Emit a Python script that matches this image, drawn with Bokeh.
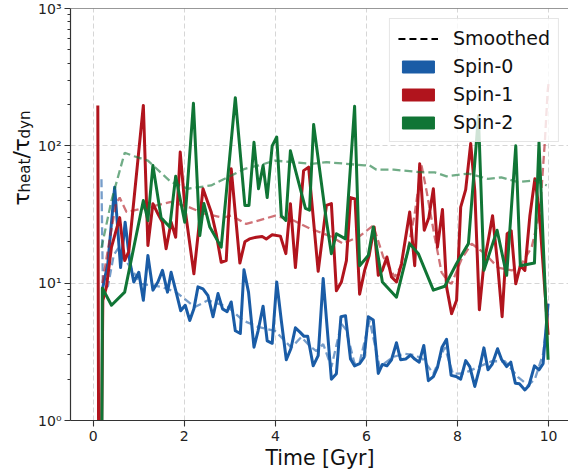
import math
from bokeh.plotting import figure
from bokeh.layouts import row
from bokeh.models import (FixedTicker, Span, Label, Legend, LegendItem, Range1d,
                          CustomJSTickFormatter)
from bokeh.embed import file_html
from bokeh.resources import INLINE

# ---------------- data ----------------
spin0_t = [0.20, 0.32, 0.47, 0.60, 0.70, 0.80, 0.89, 1.00, 1.10, 1.20, 1.31, 1.42, 1.52, 1.63, 1.71,
           1.82, 1.92, 2.02, 2.12, 2.21, 2.30, 2.41, 2.52, 2.63, 2.74, 2.84, 2.94, 3.03, 3.12, 3.23,
           3.31, 3.41, 3.53, 3.62, 3.73, 3.82, 3.93, 4.03, 4.13, 4.24, 4.34, 4.44, 4.54, 4.63, 4.71,
           4.83, 4.94, 5.05, 5.13, 5.23, 5.34, 5.44, 5.54, 5.65, 5.74, 5.85, 5.95, 6.04, 6.15, 6.26,
           6.35, 6.45, 6.55, 6.66, 6.75, 6.86, 6.97, 7.06, 7.16, 7.26, 7.36, 7.47, 7.56, 7.66, 7.76,
           7.86, 7.97, 8.07, 8.18, 8.27, 8.38, 8.48, 8.58, 8.67, 8.76, 8.88, 8.97, 9.08, 9.17, 9.27,
           9.36, 9.48, 9.57, 9.69, 9.79, 9.88, 9.99]
spin0_v = [9.0, 13.9, 50, 13, 27.8, 14.6, 10.2, 12, 7.5, 15.9, 8.9, 10.2, 12.4, 8.6, 12,
           8.6, 6.3, 6.9, 5.35, 6.5, 9.4, 9.1, 8.1, 5.7, 8.4, 6.5, 6.2, 7.3, 4.5, 4.3,
           12.5, 8.6, 3.42, 4.5, 6.8, 3.8, 3.65, 10.2, 5.35, 2.77, 3.33, 4.73, 4.4, 4.1, 4.1,
           2.5, 2.97, 10.8, 5.06, 2.0, 2.19, 5.7, 5.8, 2.8, 2.5, 2.59, 2.89, 5.7, 5.4, 2.2,
           2.56, 2.5, 2.77, 3.68, 2.77, 2.8, 3.0, 2.8, 2.66, 3.52, 1.95, 2.09, 2.44, 3.42, 3.9,
           2.13, 2.09, 2.0, 2.73, 2.47, 1.77, 2.38, 3.38, 2.34, 2.56, 3.33, 2.77, 2.47, 2.66, 1.87,
           1.85, 1.67, 1.8, 2.5, 2.34, 2.59, 7.1]

spin0_smooth_t = [0.18, 0.21, 0.32, 0.45, 0.55, 0.76, 1.05, 1.49, 1.82, 2.23, 2.52, 2.96, 3.29, 3.62,
                  3.99, 4.35, 4.57, 4.75, 4.90, 5.05, 5.23, 5.45, 5.55, 5.74, 5.85, 6.07, 6.29, 6.58,
                  6.84, 7.06, 7.24, 7.47, 7.72, 7.90, 8.14, 8.45, 8.75, 9.04, 9.33, 9.55, 9.70, 9.88, 9.99]
spin0_smooth_v = [57, 10, 9.4, 16, 18, 13.9, 9.9, 9.4, 8.6, 6.7, 7.5, 6.7, 5.35, 4.8,
                  4.5, 3.4, 4.05, 3.5, 3.2, 3.6, 2.45, 5.06, 4.6, 2.59, 2.65, 5.35, 2.45, 2.9,
                  3.06, 3.0, 2.8, 2.19, 3.42, 2.19, 2.2, 2.45, 2.7, 2.7, 2.07, 1.8, 2.0, 3.06, 6.0]

spin1_t = [0.10, 0.13, 0.21, 0.29, 0.40, 0.58, 0.69, 0.78, 1.10, 1.20, 1.31, 1.42, 1.52, 1.60, 1.71,
           1.81, 1.91, 2.02, 2.21, 2.41, 2.59, 2.70, 2.81, 2.92, 3.03, 3.22, 3.33, 3.43, 3.58, 3.71,
           3.80, 3.93, 4.11, 4.23, 4.33, 4.44, 4.62, 4.73, 4.94, 5.12, 5.23, 5.34, 5.45, 5.56, 5.65,
           5.75, 5.85, 5.96, 6.06, 6.17, 6.26, 6.35, 6.45, 6.55, 6.66, 6.77, 6.95, 7.06, 7.17, 7.27,
           7.37, 7.47, 7.56, 7.67, 7.76, 7.87, 7.98, 8.07, 8.18, 8.29, 8.38, 8.48, 8.58, 8.67, 8.77,
           8.88, 8.98, 9.09, 9.18, 9.28, 9.38, 9.48, 9.59, 9.70, 9.79, 9.99]
spin1_v = [197, 0.01, 7.5, 9.4, 18.3, 30, 14.6, 17, 197, 18.8, 37.9, 32, 27.8, 17.8, 27.8,
           21.6, 90, 33.8, 11.7, 48.7, 33, 22.9, 14.2, 14.6, 68, 14, 20, 21, 21.6, 21.9,
           21, 22.5, 22, 16.4, 37.9, 13, 66, 70, 12.2, 36.8, 38, 8.8, 10.2, 14.6, 42,
           41, 8.3, 12.4, 15.9, 25.6, 11.4, 12.4, 15.5, 11.1, 10.2, 13.9, 33, 13.4, 74, 24.3,
           30, 48.7, 18.3, 34.4, 9.4, 6.0, 7.5, 35.8, 48, 104, 47, 6.4, 13.9, 20, 31,
           13.9, 5.7, 22.9, 24, 9.9, 13.4, 12.4, 31, 57.6, 34.8, 4.2]

spin1_smooth_t = [0.20, 0.35, 0.50, 0.58, 0.73, 1.10, 1.71, 2.08, 2.45, 2.85, 3.03, 3.36, 4.00, 4.40,
                  4.76, 5.20, 5.49, 5.85, 6.15, 6.37, 6.62, 6.88, 7.06, 7.21, 7.32, 7.50, 7.65, 7.80,
                  7.87, 8.09, 8.31, 8.60, 8.89, 9.19, 9.36, 9.63, 9.81, 9.92, 9.98, 10.0]
spin1_smooth_v = [10, 20, 38, 42, 33, 35, 39, 36, 32, 30, 31, 27, 31, 28.6,
                  25, 22, 19.4, 22, 26.3, 15.5, 11.1, 15.5, 32, 72, 47, 21.6, 12, 10.2,
                  9.9, 15, 19.4, 16.4, 13, 12.4, 13, 18.3, 33, 109, 250, 285]

spin2_t = [0.17, 0.20, 0.40, 0.69, 1.10, 1.20, 1.31, 1.49, 1.68, 1.81, 2.01, 2.20, 2.34, 2.43, 2.56,
           2.81, 3.12, 3.33, 3.42, 3.53, 3.63, 3.73, 3.82, 3.93, 4.03, 4.13, 4.23, 4.33, 4.66, 4.75,
           4.84, 5.12, 5.23, 5.34, 5.54, 5.74, 5.85, 6.04, 6.15, 6.35, 6.66, 6.95, 7.14, 7.47, 7.72,
           7.98, 8.24, 8.46, 8.58, 8.87, 9.08, 9.28, 9.38, 9.69, 9.79, 9.99]
spin2_v = [0.01, 9.2, 6.9, 8.6, 40, 28.6, 72, 30, 25.6, 60, 27.8, 204, 22.2, 38, 25.6,
           18.3, 224, 36.8, 36.8, 106, 48.7, 72, 42, 100, 116, 31, 28.6, 92, 35, 34,
           143, 28.6, 16.4, 22.9, 21, 194, 13.4, 15.9, 25.6, 10.2, 7.9, 19.4, 16.4, 8.9, 9.5,
           13.9, 19.4, 165, 12.4, 24.3, 11.4, 100, 13.4, 14, 106, 2.77]

spin2_smooth_t = [0.18, 0.40, 0.69, 0.90, 1.20, 1.50, 1.71, 2.08, 2.59, 3.00, 3.33, 3.70, 3.99, 4.42,
                  4.79, 5.12, 5.56, 5.96, 6.04, 6.22, 6.60, 7.25, 7.50, 7.76, 8.24, 8.67, 8.96, 9.33,
                  9.70, 9.96]
spin2_smooth_v = [18, 40, 89, 84, 78, 63, 54.5, 48.7, 51.5, 60, 68, 73, 78, 76,
                  74, 76, 74, 72, 73, 67, 67, 64, 64, 60, 62.8, 57.5, 59, 54.5,
                  56, 51.5]

series_labels = ["Spin-0", "Spin-1", "Spin-2"]
colors = ["#1a5ca6", "#b1141d", "#107535"]
x_ticks = [0, 2, 4, 6, 8, 10]
y_ticks = [1, 10, 100, 1000]

# ---------------- layout constants ----------------
FONT = "DejaVu Sans"
LAB_W = 35                     # width of the strip holding the y-axis label
FRAME_LEFT, FRAME_TOP, FRAME_H = 69, 8, 412
TOTAL_H = 474

# ---------------- y-label strip ----------------
lab = figure(width=LAB_W, height=TOTAL_H, x_range=Range1d(0, 1), y_range=Range1d(0, 1),
             output_backend="svg", toolbar_location=None, min_border=0)
lab.axis.visible = False
lab.grid.visible = False
lab.outline_line_color = None
lab.background_fill_color = "white"
lab.border_fill_color = "white"

def ylab(text, xb, ybottom, size):
    # screen units are frame-relative, measured from the bottom
    lab.add_layout(Label(x=xb, y=TOTAL_H - ybottom, x_units="screen", y_units="screen",
                         text=text, angle=math.pi / 2, text_font=FONT, text_font_size=size,
                         text_baseline="alphabetic", text_align="left", text_color="#111111"))
ylab("\u03c4", 21, 259, "22px")
ylab("heat", 24, 246, "15px")
ylab("/", 21, 212, "22px")
ylab("\u03c4", 21, 205, "22px")
ylab("dyn", 24, 192, "15px")

# ---------------- main figure ----------------
p = figure(frame_width=499, frame_height=FRAME_H, y_axis_type="log",
           x_range=Range1d(-0.5, 10.46), y_range=Range1d(1, 1000),
           output_backend="svg", toolbar_location=None,
           min_border_left=FRAME_LEFT - LAB_W, min_border_right=0, min_border_top=FRAME_TOP,
           min_border_bottom=TOTAL_H - FRAME_TOP - FRAME_H)
p.outline_line_color = None
p.background_fill_color = "white"
p.border_fill_color = "white"

raw = [(spin0_t, spin0_v), (spin1_t, spin1_v), (spin2_t, spin2_v)]
smooth = [(spin0_smooth_t, spin0_smooth_v), (spin1_smooth_t, spin1_smooth_v),
          (spin2_smooth_t, spin2_smooth_v)]

nan = float("nan")
patch_renderers = []
for (t, v), (ts, vs), c in zip(raw, smooth, colors):
    p.line(t, v, line_color=c, line_width=3, line_join="round")
    p.line(ts, vs, line_color=c, line_width=2.3, line_alpha=0.6, line_dash="8 4")
    # legend key only (no visible mark)
    patch_renderers.append(p.quad(left=[nan], right=[nan], bottom=[nan], top=[nan],
                                  fill_color=c, line_color=c))

smooth_key = p.line([nan, nan], [nan, nan], line_color="black", line_width=2, line_dash="7 4")

# axes
p.xaxis.ticker = FixedTicker(ticks=x_ticks)
p.yaxis.ticker = FixedTicker(ticks=y_ticks,
                             minor_ticks=[m * d for d in (1, 10, 100) for m in range(2, 10)])
p.yaxis.formatter = CustomJSTickFormatter(code="""
const e = Math.round(Math.log10(tick));
const sup = {0:'\u2070',1:'\u00b9',2:'\u00b2',3:'\u00b3'};
return '10' + sup[e];
""")
for ax in (p.xaxis[0], p.yaxis[0]):
    ax.axis_line_color = "#333333"
    ax.axis_line_width = 1.2
    ax.major_tick_line_color = "#333333"
    ax.major_tick_line_width = 1.1
    ax.major_tick_out = 6
    ax.major_tick_in = 0
    ax.minor_tick_line_color = "#333333"
    ax.minor_tick_out = 3
    ax.minor_tick_in = 0
    ax.major_label_text_font = FONT
    ax.major_label_text_font_size = "14px"
    ax.major_label_text_color = "#222222"
    ax.major_label_standoff = 3
p.xaxis.minor_tick_line_color = None
p.xaxis.major_label_standoff = 4
p.xaxis.axis_label = "Time [Gyr]"
p.xaxis.axis_label_text_font = FONT
p.xaxis.axis_label_text_font_size = "20.5px"
p.xaxis.axis_label_text_font_style = "normal"
p.xaxis.axis_label_text_color = "#111111"
p.xaxis.axis_label_standoff = 2

# grid
for g in (p.xgrid[0], p.ygrid[0]):
    g.grid_line_color = "#cccccc"
    g.grid_line_width = 1
    g.grid_line_dash = "5 3"
    g.grid_line_alpha = 0.8

# top spine
p.add_layout(Span(location=1000, dimension="width", line_color="#333333", line_width=1.2))

# legend
items = [LegendItem(label="Smoothed", renderers=[smooth_key])]
for lab_text, r in zip(series_labels, patch_renderers):
    items.append(LegendItem(label=lab_text, renderers=[r]))
legend = Legend(items=items, location="top_right", margin=10, padding=8, spacing=6,
                glyph_width=40, glyph_height=15, label_standoff=15,
                label_text_font=FONT, label_text_font_size="19px", label_text_color="#111111",
                border_line_color="#cccccc", border_line_width=1,
                background_fill_color="white", background_fill_alpha=0.8)
p.add_layout(legend)

layout = row(lab, p, spacing=0)
open("out.html", "w").write(file_html(layout, INLINE))
